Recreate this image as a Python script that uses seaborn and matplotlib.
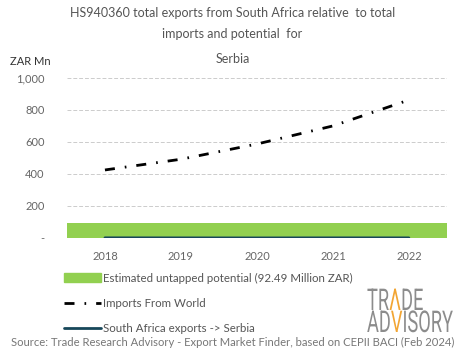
import numpy as np
import pandas as pd
import matplotlib
matplotlib.use('Agg')
import matplotlib.pyplot as plt
from matplotlib.lines import Line2D
from matplotlib.patches import Patch, PathPatch
from matplotlib.ticker import FuncFormatter
from matplotlib.textpath import TextPath, TextToPath
from matplotlib.font_manager import FontProperties
from matplotlib.transforms import Affine2D
import seaborn as sns

# Chart data (ZAR million)
years = ['2018', '2019', '2020', '2021', '2022']
imports_world = [425, 492, 587, 700, 862]
sa_exports = [1.2, 0.8, 0.5, 1.0, 0.9]
untapped_potential = 92.49

GREEN = '#92d050'
TEAL = '#17475a'
GREY = '#666666'
FONT = 'Lato'

sns.set_style('white')
plt.rcParams['font.family'] = [FONT, 'DejaVu Sans']

df = pd.DataFrame({'Year': years, 'Imports': imports_world,
                   'Exports': sa_exports,
                   'Potential': [untapped_potential] * len(years)})

fig = plt.figure(figsize=(4.65, 3.59), dpi=100)
ax = fig.add_axes([0.144, 0.337, 0.817, 0.446])

# untapped potential band
sns.barplot(data=df, x='Year', y='Potential', color=GREEN, width=1.0,
            saturation=1, edgecolor=GREEN, linewidth=0, ax=ax, zorder=2)
# imports from world
sns.lineplot(data=df, x='Year', y='Imports', color='black', lw=2.0,
             dashes=False, ax=ax, zorder=3)
ax.lines[-1].set_dashes((3.6, 3.6, 0.6, 3.6))
# South Africa exports
sns.lineplot(data=df, x='Year', y='Exports', color=TEAL, lw=2.0, ax=ax, zorder=3)

ax.set_xlim(-0.5, 4.5)
ax.set_ylim(0, 1000)
ax.set_yticks([0, 200, 400, 600, 800, 1000])
ax.yaxis.set_major_formatter(FuncFormatter(lambda v, p: '-' if v == 0 else f'{v:,.0f}'))
for y in [200, 400, 600, 800, 1000]:
    ax.axhline(y, color='#cccccc', lw=0.7, ls=(0, (4, 2)), zorder=1)
ax.set_xlabel('')
ax.set_ylabel('')
ax.tick_params(axis='both', colors=GREY, labelsize=8, length=0)
ax.tick_params(axis='y', pad=16)
ax.tick_params(axis='x', pad=9)
sns.despine(ax=ax, left=True, bottom=True)

# titles
fig.text(0.5, 0.963, 'HS940360 total exports from South Africa relative  to total',
         ha='center', va='center', fontsize=9, color='#555555')
fig.text(0.5, 0.905, 'imports and potential  for', ha='center', va='center',
         fontsize=9, color='#555555')
fig.text(0.5, 0.835, 'Serbia', ha='center', va='center', fontsize=9, color='#555555')
fig.text(0.022, 0.83, 'ZAR Mn', ha='left', va='center', fontsize=8, color='#333333')

# legend
handles = [Patch(facecolor=GREEN, edgecolor=GREEN),
           Line2D([], [], color='black', lw=2.0, dashes=(3.6, 3.6, 0.6, 3.6)),
           Line2D([], [], color=TEAL, lw=2.0)]
labels = ['Estimated untapped potential (92.49 Million ZAR)',
          'Imports From World', 'South Africa exports -> Serbia']
fig.legend(handles, labels, loc='upper left', bbox_to_anchor=(0.125, 0.257),
           frameon=False, fontsize=8.3, labelcolor='#555555', handlelength=3.2,
           handletextpad=0.2, labelspacing=1.25, borderpad=0)

fig.text(0.5, 0.045, 'Source: Trade Research Advisory - Export Market Finder, based on CEPII BACI (Feb 2024)',
         ha='center', va='center', fontsize=8.1, color='#777777')

# logo, drawn as condensed text paths (pixel coordinates)
LOGO_GREY = '#8c8c8c'
LOGO_ORANGE = '#f2a533'
size = 30
fp = FontProperties(family='Roboto', weight='normal', size=size)
t2p = TextToPath()

def logo_line(parts, x0, y0, sx):
    x = 0
    for txt, col in parts:
        tp = TextPath((0, 0), txt, size=size, prop=fp)
        w = t2p.get_text_width_height_descent(txt, fp, ismath=False)[0]
        tr = Affine2D().scale(sx, 1).translate(x0 + x * sx, y0)
        fig.add_artist(PathPatch(tp, transform=tr, facecolor=col, edgecolor='none'))
        x += w

adv_w = t2p.get_text_width_height_descent('ADVISORY', fp, ismath=False)[0]
sx = 86 / adv_w
logo_line([('TR', LOGO_GREY), ('Λ', LOGO_ORANGE), ('DE', LOGO_GREY)], 367, 49, sx)
logo_line([('AD', LOGO_GREY), ('V', LOGO_ORANGE), ('ISORY', LOGO_GREY)], 367, 27, sx)

fig.savefig('out.png', dpi=100)
